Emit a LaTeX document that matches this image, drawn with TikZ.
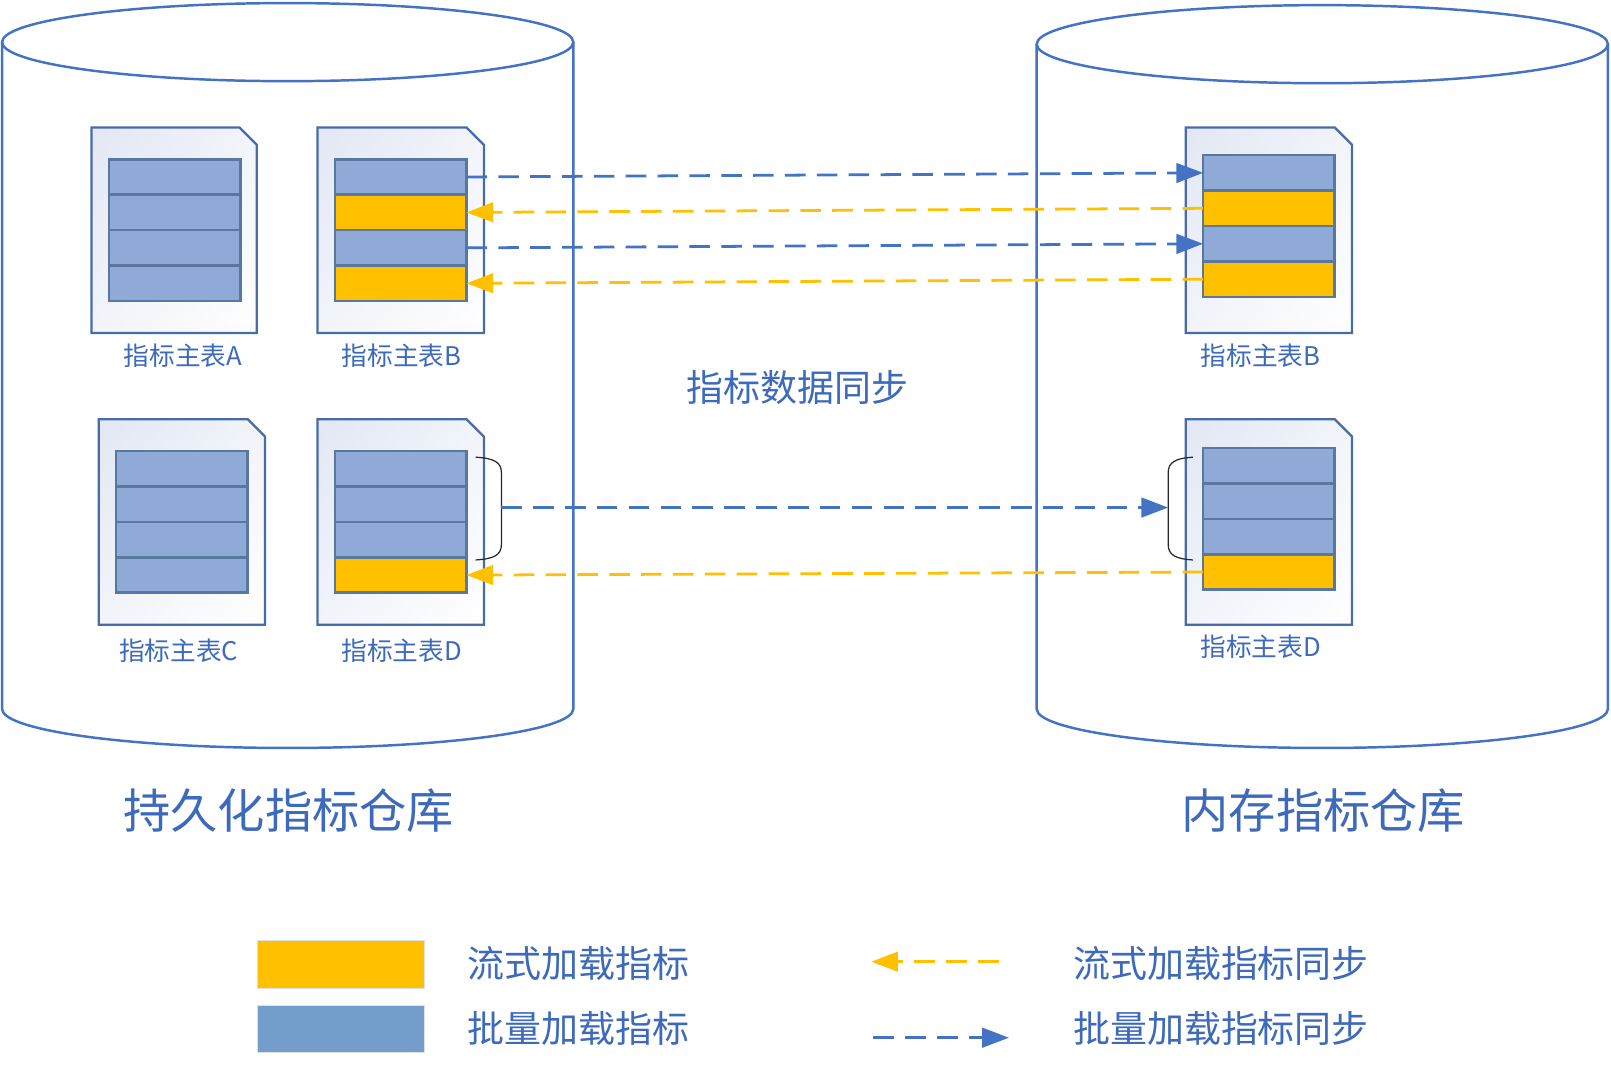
\documentclass[tikz,border=0pt]{standalone}
\usepackage{fontspec}
\setmainfont{Noto Sans CJK SC}
\usetikzlibrary{arrows.meta,shadings}
\definecolor{lineblue}{RGB}{68,114,196}
\definecolor{txtblue}{RGB}{61,106,186}
\definecolor{docline}{RGB}{72,108,168}
\definecolor{rowline}{RGB}{88,120,160}
\definecolor{rowblue}{RGB}{143,170,214}
\definecolor{rowyellow}{RGB}{255,192,0}
\definecolor{legblue}{RGB}{115,158,204}
\definecolor{docfillA}{RGB}{226,231,243}
\definecolor{docfillB}{RGB}{242,244,250}
\definecolor{bracketcol}{RGB}{40,40,40}
\newcommand\mydoc[4]{%
  \shade[upper left=docfillA, upper right=docfillB, lower left=docfillB, lower right=white]
    (#1,#2) -- (#3-17,#2) -- (#3,#2+17) -- (#3,#4) -- (#1,#4) -- cycle;
  \draw[docline, line width=1.1pt] (#1,#2) -- (#3-17,#2) -- (#3,#2+17) -- (#3,#4) -- (#1,#4) -- cycle;
}
\begin{document}
\begin{tikzpicture}[x=0.5pt,y=-0.5pt,
  cyl/.style={draw=lineblue, line width=1.2pt},
  row/.style={draw=rowline, line width=1.3pt, minimum width=64pt, minimum height=17.25pt, inner sep=0pt, outer sep=0pt},
  brow/.style={row, fill=rowblue},
  yrow/.style={row, fill=rowyellow},
  bsync/.style={draw=lineblue, line width=1.35pt, dash pattern=on 10pt off 5.5pt, -{Triangle[length=13pt,width=9.5pt]}},
  ysync/.style={draw=rowyellow, line width=1.35pt, dash pattern=on 10pt off 5.5pt, -{Triangle[length=13pt,width=9.5pt]}},
  lbl/.style={text=txtblue, font=\fontsize{12.5}{14}\selectfont, inner sep=0pt},
  midlbl/.style={text=txtblue, font=\fontsize{18}{20}\selectfont, inner sep=0pt},
  biglbl/.style={text=txtblue, font=\fontsize{23}{26}\selectfont, inner sep=0pt},
  legbox/.style={minimum width=81pt, minimum height=23.25pt, inner sep=0pt, draw=black!12, line width=0.4pt},
  brace/.style={draw=bracketcol, line width=0.6pt}
]
\useasboundingbox[fill=white] (0,0) rectangle (1568,1038);

% cylinders
\draw[cyl, fill=white] (2,41) -- (2,690) arc[start angle=180, end angle=0, x radius=278, y radius=38] -- (558,41);
\draw[cyl] (280,41) ellipse[x radius=278, y radius=38];
\draw[cyl, fill=white] (1009,43) -- (1009,690) arc[start angle=180, end angle=0, x radius=278, y radius=38] -- (1565,43);
\draw[cyl] (1287,43) ellipse[x radius=278, y radius=38];

% documents
\mydoc{89}{124}{250}{324}
\mydoc{309}{124}{471}{324}
\mydoc{96}{408}{258}{608}
\mydoc{309}{408}{471}{608}
\mydoc{1154}{124}{1316}{324}
\mydoc{1154}{408}{1316}{608}

% table A
\node[brow] (lA1) at (170,172.25) {};
\node[brow] (lA2) at (170,206.75) {};
\node[brow] (lA3) at (170,241.25) {};
\node[brow] (lA4) at (170,275.75) {};
% table B
\node[brow] (lB1) at (390,172.25) {};
\node[yrow] (lB2) at (390,206.75) {};
\node[brow] (lB3) at (390,241.25) {};
\node[yrow] (lB4) at (390,275.75) {};
% table C
\node[brow] (lC1) at (177,456.25) {};
\node[brow] (lC2) at (177,490.75) {};
\node[brow] (lC3) at (177,525.25) {};
\node[brow] (lC4) at (177,559.75) {};
% table D
\node[brow] (lD1) at (390,456.25) {};
\node[brow] (lD2) at (390,490.75) {};
\node[brow] (lD3) at (390,525.25) {};
\node[yrow] (lD4) at (390,559.75) {};
% right B
\node[brow] (rB1) at (1235,168.25) {};
\node[yrow] (rB2) at (1235,202.75) {};
\node[brow] (rB3) at (1235,237.25) {};
\node[yrow] (rB4) at (1235,271.75) {};
% right D
\node[brow] (rD1) at (1235,453.25) {};
\node[brow] (rD2) at (1235,487.75) {};
\node[brow] (rD3) at (1235,522.25) {};
\node[yrow] (rD4) at (1235,556.75) {};

% labels
\node[lbl] (tA) at (178,346) {指标主表A};
\node[lbl] (tB) at (391,346) {指标主表B};
\node[lbl] (tC) at (174,633) {指标主表C};
\node[lbl] (tD) at (391,633) {指标主表D};
\node[lbl] (trB) at (1227,346) {指标主表B};
\node[lbl] (trD) at (1227,629) {指标主表D};
\node[midlbl] (tsync) at (776,377) {指标数据同步};
\node[biglbl] (tleft) at (281,789) {持久化指标仓库};
\node[biglbl] (tright) at (1288,789) {内存指标仓库};

% brackets
\coordinate (lbr) at (488,494);
\coordinate (rbr) at (1137,494);
\draw[brace] (463,445) .. controls (481,446) and (488,450) .. (488,460) -- (488,530) .. controls (488,540) and (481,544) .. (463,545);
\draw[brace] (1161,445) .. controls (1144,446) and (1137,450) .. (1137,460) -- (1137,530) .. controls (1137,540) and (1144,544) .. (1161,545);

% sync arrows
\draw[bsync] (lB1.east) -- (rB1.west);
\draw[ysync] (rB2.west) -- (lB2.east);
\draw[bsync] (lB3.east) -- (rB3.west);
\draw[ysync] (rB4.west) -- (lB4.east);
\draw[bsync] (lbr) -- (rbr);
\draw[ysync] (rD4.west) -- (lD4.east);

% legend
\node[legbox, fill=rowyellow] (legY) at (332,939) {};
\node[legbox, fill=legblue] (legB) at (332,1001.5) {};
\node[midlbl, anchor=west] (legYt) at (455,938) {流式加载指标};
\node[midlbl, anchor=west] (legBt) at (455,1001) {批量加载指标};
\coordinate (ya1) at (972,936);
\coordinate (ya2) at (848,936);
\coordinate (ba1) at (850,1010);
\coordinate (ba2) at (982,1010);
\draw[ysync] (ya1) -- (ya2);
\draw[bsync] (ba1) -- (ba2);
\node[midlbl, anchor=west] (legYs) at (1044,938) {流式加载指标同步};
\node[midlbl, anchor=west] (legBs) at (1044,1001) {批量加载指标同步};
\end{tikzpicture}
\end{document}
